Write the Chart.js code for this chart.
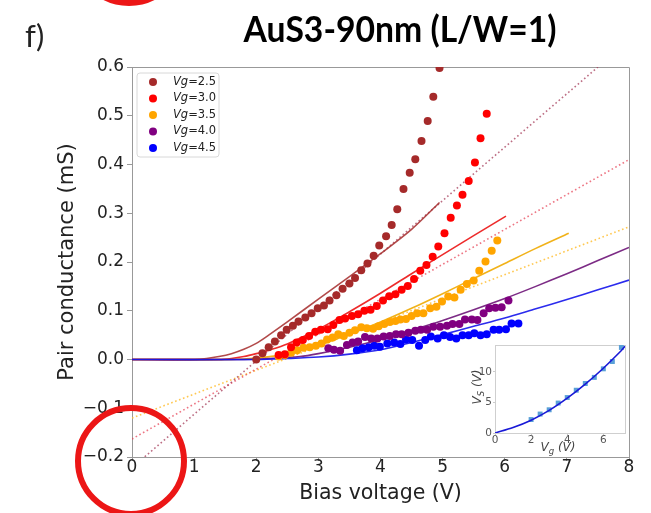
<!DOCTYPE html>
<html><head><meta charset="utf-8">
<script src="https://cdn.jsdelivr.net/npm/chart.js@4.4.1/dist/chart.umd.min.js"></script>
<style>
html,body{margin:0;padding:0;background:#fff;}
#wrap{position:relative;width:651px;height:513px;overflow:hidden;}
#main{position:absolute;left:0;top:0;}
#inset{position:absolute;left:440px;top:330px;}
</style></head><body>
<div id="wrap"><canvas id="main" width="651" height="513"></canvas><canvas id="inset" width="200" height="140"></canvas></div>
<script>
// ---------- DATA ----------
const seriesLabels = ['Vg=2.5', 'Vg=3.0', 'Vg=3.5', 'Vg=4.0', 'Vg=4.5'];

// measured pair conductance (mS) vs bias voltage (V)
const vg25X = [2.00,2.10,2.20,2.30,2.40,2.49,2.59,2.68,2.79,2.89,2.99,3.09,3.18,3.29,3.39,3.50,3.59,3.69,3.79,3.89,3.98,4.09,4.18,4.27,4.37,4.47,4.56,4.66,4.76,4.85,4.95];
const vg25Y = [0.000,0.013,0.025,0.037,0.050,0.061,0.069,0.078,0.086,0.095,0.105,0.111,0.121,0.132,0.145,0.156,0.167,0.183,0.197,0.213,0.234,0.253,0.276,0.308,0.350,0.383,0.411,0.448,0.489,0.539,0.598];

const vg30X = [2.36,2.46,2.56,2.65,2.75,2.85,2.95,3.04,3.15,3.24,3.34,3.43,3.54,3.64,3.74,3.84,3.94,4.04,4.14,4.24,4.34,4.44,4.54,4.64,4.74,4.84,4.93,5.03,5.13,5.23,5.32,5.42,5.52,5.61,5.71];
const vg30Y = [0.009,0.011,0.025,0.035,0.040,0.048,0.057,0.061,0.062,0.071,0.081,0.084,0.089,0.093,0.100,0.102,0.110,0.121,0.130,0.134,0.143,0.151,0.165,0.182,0.194,0.211,0.232,0.259,0.291,0.316,0.338,0.366,0.404,0.454,0.504];

const vg35X = [2.36,2.46,2.56,2.66,2.76,2.86,2.96,3.05,3.14,3.23,3.32,3.41,3.50,3.59,3.69,3.78,3.88,3.97,4.06,4.15,4.24,4.32,4.41,4.50,4.59,4.69,4.80,4.90,4.99,5.09,5.19,5.29,5.39,5.50,5.59,5.69,5.79,5.88];
const vg35Y = [0.006,0.009,0.014,0.019,0.024,0.025,0.028,0.033,0.041,0.045,0.052,0.048,0.055,0.060,0.066,0.064,0.063,0.068,0.073,0.077,0.079,0.082,0.083,0.089,0.095,0.095,0.105,0.108,0.119,0.129,0.127,0.143,0.155,0.162,0.182,0.201,0.223,0.244];

const vg40X = [3.16,3.25,3.35,3.46,3.55,3.64,3.75,3.85,3.95,4.05,4.15,4.25,4.34,4.45,4.56,4.65,4.75,4.85,4.96,5.07,5.16,5.27,5.36,5.47,5.56,5.66,5.75,5.85,5.95,6.06];
const vg40Y = [0.023,0.020,0.018,0.030,0.035,0.037,0.046,0.043,0.043,0.047,0.048,0.052,0.052,0.055,0.059,0.061,0.061,0.067,0.067,0.069,0.073,0.073,0.082,0.082,0.081,0.095,0.105,0.106,0.107,0.121];

const vg45X = [3.62,3.71,3.81,3.90,3.99,4.11,4.22,4.32,4.41,4.51,4.62,4.72,4.81,4.92,5.02,5.12,5.22,5.32,5.42,5.51,5.61,5.71,5.82,5.91,6.02,6.11,6.22];
const vg45Y = [0.019,0.023,0.025,0.028,0.026,0.033,0.035,0.032,0.041,0.040,0.028,0.040,0.047,0.043,0.050,0.046,0.043,0.050,0.050,0.054,0.050,0.052,0.061,0.061,0.062,0.074,0.074];

// model curves (solid)
const fit25X = [0,1.0,1.2,1.4,1.6,1.8,2.0,2.2,2.5,3.0,3.5,4.0,4.5,4.95];
const fit25Y = [0,0,0.002,0.006,0.012,0.021,0.033,0.050,0.077,0.124,0.170,0.217,0.267,0.322];
const fit30X = [0,1.4,1.6,1.8,2.0,2.2,2.5,3.0,3.5,4.0,4.5,5.0,5.5,6.02];
const fit30Y = [0,0,0.002,0.006,0.012,0.019,0.032,0.062,0.098,0.136,0.176,0.215,0.254,0.294];
const fit35X = [0,1.6,2.0,2.5,3.0,3.5,4.0,4.5,5.0,5.5,6.0,6.5,7.03];
const fit35Y = [0,0,0.003,0.011,0.029,0.052,0.077,0.105,0.135,0.166,0.197,0.228,0.259];
const fit40X = [0,1.8,2.2,2.7,3.0,3.5,4.0,4.5,5.0,5.5,6.0,6.5,7.0,7.5,8.0];
const fit40Y = [0,0,0.002,0.006,0.012,0.025,0.041,0.060,0.080,0.102,0.125,0.150,0.176,0.203,0.230];
const fit45X = [0,2.0,2.5,3.0,3.5,4.0,4.5,5.0,5.5,6.0,6.5,7.0,7.5,8.0];
const fit45Y = [0,0,0.002,0.005,0.011,0.020,0.035,0.051,0.068,0.085,0.104,0.123,0.143,0.163];

// linear extrapolations (dotted)
const lin25X = [0, 7.5];   const lin25Y = [-0.222, 0.6];
const lin30X = [0, 8];     const lin30Y = [-0.163, 0.41];
const lin35X = [0, 8];     const lin35Y = [-0.12, 0.272];

// axis ticks
const xTicks = [0,1,2,3,4,5,6,7,8];
const yTicks = [-0.2,-0.1,0.0,0.1,0.2,0.3,0.4,0.5,0.6];

// inset: Vs vs Vg
const insetVgX = [2,2.5,3,3.5,4,4.5,5,5.5,6,6.5,7];
const insetVsY = [2.2,3.1,3.8,4.9,5.8,7.0,8.1,9.1,10.5,11.7,14.0];
const insetFitX = [0,1,2,3,4,5,6,7,7.2];
const insetFitY = [0,0.9,2.1,3.7,5.7,8.0,10.6,13.5,14.2];
const insetXTicks = [0,2,4,6];
const insetYTicks = [0,5,10];

// ---------- STYLE ----------
const colors = ['#a52a2a','#ff0000','#ffa500','#800080','#0000ff'];
const lineColors = ['rgba(165,42,42,0.85)','rgba(235,20,20,0.9)','rgba(240,170,0,0.9)','rgba(110,20,120,0.9)','rgba(20,20,235,0.9)'];
const dotColors = ['rgba(165,60,90,0.75)','rgba(230,60,80,0.7)','rgba(255,190,50,0.85)'];

const pts = (xs, ys) => xs.map((x, i) => ({x: x, y: ys[i]}));
const ptX = [vg25X, vg30X, vg35X, vg40X, vg45X];
const ptY = [vg25Y, vg30Y, vg35Y, vg40Y, vg45Y];
const fitX = [fit25X, fit30X, fit35X, fit40X, fit45X];
const fitY = [fit25Y, fit30Y, fit35Y, fit40Y, fit45Y];
const linX = [lin25X, lin30X, lin35X];
const linY = [lin25Y, lin30Y, lin35Y];

const datasets = [];
for (let i = 0; i < 5; i++) {
  datasets.push({label: seriesLabels[i], data: pts(ptX[i], ptY[i]), showLine: false,
    pointRadius: 4, pointBackgroundColor: colors[i], pointBorderWidth: 0, order: 1, isPoints: true});
}
for (let i = 0; i < 5; i++) {
  datasets.push({label: 'fit ' + seriesLabels[i], data: pts(fitX[i], fitY[i]), showLine: true,
    pointRadius: 0, borderColor: lineColors[i], borderWidth: 1.6, tension: 0.3, order: 7 - i});
}
for (let i = 0; i < 3; i++) {
  datasets.push({label: 'lin ' + seriesLabels[i], data: pts(linX[i], linY[i]), showLine: true,
    pointRadius: 0, borderColor: dotColors[i], borderWidth: 1.6, borderDash: [1.6, 2.6], order: 9});
}

const fmt = v => { const s = (Math.abs(v) < 1e-9 ? 0 : v).toFixed(1); return s.replace('-', '\u2212'); };
const FONT = 'DejaVu Sans';

const decor = {
  id: 'decor',
  beforeDatasetsDraw(chart) {
    const {ctx, chartArea: a} = chart;
    ctx.save();
    ctx.strokeStyle = '#999'; ctx.lineWidth = 1;
    ctx.beginPath();
    ctx.moveTo(a.left, a.top + 0.5); ctx.lineTo(a.right + 0.5, a.top + 0.5); ctx.lineTo(a.right + 0.5, a.bottom);
    ctx.stroke();
    ctx.restore();
  },
  afterDraw(chart) {
    const {ctx} = chart;
    const xs = chart.scales.x, ys = chart.scales.y;
    ctx.save();
    // legend
    const lx = 137, ly = 73, lw = 82, lh = 84, r = 3;
    ctx.beginPath();
    ctx.moveTo(lx + r, ly); ctx.lineTo(lx + lw - r, ly); ctx.quadraticCurveTo(lx + lw, ly, lx + lw, ly + r);
    ctx.lineTo(lx + lw, ly + lh - r); ctx.quadraticCurveTo(lx + lw, ly + lh, lx + lw - r, ly + lh);
    ctx.lineTo(lx + r, ly + lh); ctx.quadraticCurveTo(lx, ly + lh, lx, ly + lh - r);
    ctx.lineTo(lx, ly + r); ctx.quadraticCurveTo(lx, ly, lx + r, ly); ctx.closePath();
    ctx.fillStyle = 'rgba(255,255,255,0.85)'; ctx.fill();
    ctx.strokeStyle = '#d8d8d8'; ctx.lineWidth = 1; ctx.stroke();
    chart.data.datasets.filter(d => d.isPoints).forEach((d, i) => {
      const cy = 82 + i * 16.5;
      ctx.beginPath(); ctx.arc(153, cy, 4, 0, Math.PI * 2); ctx.fillStyle = d.pointBackgroundColor; ctx.fill();
      const parts = d.label.split('=');
      ctx.fillStyle = '#222'; ctx.textBaseline = 'middle'; ctx.textAlign = 'left';
      ctx.font = 'italic 11.5px "' + FONT + '"';
      ctx.fillText(parts[0], 173, cy);
      const w = ctx.measureText(parts[0]).width;
      ctx.font = '11.5px "' + FONT + '"';
      ctx.fillText('=' + parts[1], 173 + w, cy);
    });
    // title
    ctx.fillStyle = '#000'; ctx.textAlign = 'center'; ctx.textBaseline = 'alphabetic';
    ctx.font = 'bold 36px Lato';
    ctx.fillText('AuS3-90nm (L/W=1)', 400, 42, 313);
    ctx.textAlign = 'left';
    ctx.font = '31px Lato';
    ctx.fillStyle = '#222';
    ctx.fillText('f)', 25, 47);
    // red annotation circles
    ctx.strokeStyle = 'rgb(236,22,22)'; ctx.lineWidth = 6;
    ctx.beginPath(); ctx.arc(xs.getPixelForValue(0) - 1, ys.getPixelForValue(-0.2) + 4, 53, 0, Math.PI * 2); ctx.stroke();
    ctx.beginPath(); ctx.arc(xs.getPixelForValue(0) - 3, -50, 53, 0, Math.PI * 2); ctx.stroke();
    ctx.restore();
  }
};

new Chart(document.getElementById('main'), {
  type: 'scatter',
  data: {datasets: datasets},
  options: {
    responsive: false, animation: false, events: [],
    layout: {padding: {left: 0, top: 67, right: 22, bottom: 0}},
    plugins: {legend: {display: false}, tooltip: {enabled: false}},
    scales: {
      x: {
        type: 'linear', min: 0, max: 8,
        afterFit: s => { s.height = 56; },
        afterBuildTicks: s => { s.ticks = xTicks.map(v => ({value: v})); },
        ticks: {padding: -2, color: '#222', font: {family: FONT, size: 17, lineHeight: 1}, callback: v => String(Math.round(v))},
        grid: {drawOnChartArea: false, drawTicks: true, tickLength: 4, color: '#999'},
        border: {color: '#999'},
        title: {display: true, text: 'Bias voltage (V)', color: '#222', font: {family: FONT, size: 20.5}, padding: {top: 0, bottom: 7}}
      },
      y: {
        type: 'linear', min: -0.2, max: 0.6,
        afterFit: s => { s.width = 132; },
        afterBuildTicks: s => { s.ticks = yTicks.map(v => ({value: v})); },
        ticks: {padding: 3, color: '#222', font: {family: FONT, size: 17}, callback: v => fmt(v)},
        grid: {drawOnChartArea: false, drawTicks: true, tickLength: 5, color: '#999'},
        border: {color: '#999'},
        title: {display: true, text: 'Pair conductance (mS)', color: '#222', font: {family: FONT, size: 21}, padding: {top: 55, bottom: 0}}
      }
    }
  },
  plugins: [decor]
});

// ---------- INSET ----------
const insetDecor = {
  id: 'insetDecor',
  beforeDatasetsDraw(chart) {
    const {ctx, chartArea: a} = chart;
    ctx.save();
    ctx.strokeStyle = '#cfcfcf'; ctx.lineWidth = 1;
    ctx.strokeRect(a.left + 0.5, a.top + 0.5, a.right - a.left, a.bottom - a.top);
    ctx.restore();
  },
  beforeDraw(chart) {
    const {ctx, chartArea: a} = chart;
    ctx.save(); ctx.fillStyle = '#fff';
    ctx.fillRect(a.left, a.top, a.right - a.left, a.bottom - a.top);
    ctx.restore();
  },
  afterDraw(chart) {
    const {ctx} = chart;
    const drawSub = (main, sub, rest, cx, cy, rot) => {
      ctx.save();
      ctx.translate(cx, cy); ctx.rotate(rot);
      ctx.fillStyle = '#444'; ctx.textBaseline = 'alphabetic'; ctx.textAlign = 'left';
      const f1 = 'italic 12px "' + FONT + '"', f2 = 'italic 8.5px "' + FONT + '"';
      ctx.font = f1; const w1 = ctx.measureText(main).width; const w3 = ctx.measureText(rest).width;
      ctx.font = f2; const w2 = ctx.measureText(sub).width;
      let x = -(w1 + w2 + w3) / 2;
      ctx.font = f1; ctx.fillText(main, x, 4); x += w1;
      ctx.font = f2; ctx.fillText(sub, x, 7); x += w2;
      ctx.font = f1; ctx.fillText(rest, x, 4);
      ctx.restore();
    };
    drawSub('V', 'S', ' (V)', 37, 57, -Math.PI / 2);
    drawSub('V', 'g', ' (V)', 118, 117, 0);
  }
};

new Chart(document.getElementById('inset'), {
  type: 'scatter',
  data: {datasets: [
    {label: 'Vs', data: pts(insetVgX, insetVsY), pointStyle: 'rect', pointRadius: 3.5,
      pointBackgroundColor: 'rgb(90,160,215)', pointBorderWidth: 0, order: 2},
    {label: 'fit', data: pts(insetFitX, insetFitY), showLine: true, pointRadius: 0,
      borderColor: 'rgb(25,25,215)', borderWidth: 1.6, tension: 0.3, order: 1}
  ]},
  options: {
    responsive: false, animation: false, events: [],
    layout: {padding: {left: 0, top: 15, right: 15, bottom: 0}},
    plugins: {legend: {display: false}, tooltip: {enabled: false}},
    scales: {
      x: {
        type: 'linear', min: 0, max: 7.2,
        afterFit: s => { s.height = 37; },
        afterBuildTicks: s => { s.ticks = insetXTicks.map(v => ({value: v})); },
        ticks: {padding: 0, color: '#555', font: {family: FONT, size: 10.5, lineHeight: 1}},
        grid: {drawOnChartArea: false, drawTicks: true, tickLength: 2, color: '#ccc'},
        border: {color: '#ccc'}
      },
      y: {
        type: 'linear', min: 0, max: 14.4,
        afterFit: s => { s.width = 55; },
        afterBuildTicks: s => { s.ticks = insetYTicks.map(v => ({value: v})); },
        ticks: {padding: 1, color: '#555', font: {family: FONT, size: 10.5}},
        grid: {drawOnChartArea: false, drawTicks: true, tickLength: 2, color: '#ccc'},
        border: {color: '#ccc'}
      }
    }
  },
  plugins: [insetDecor]
});
</script>
</body></html>
